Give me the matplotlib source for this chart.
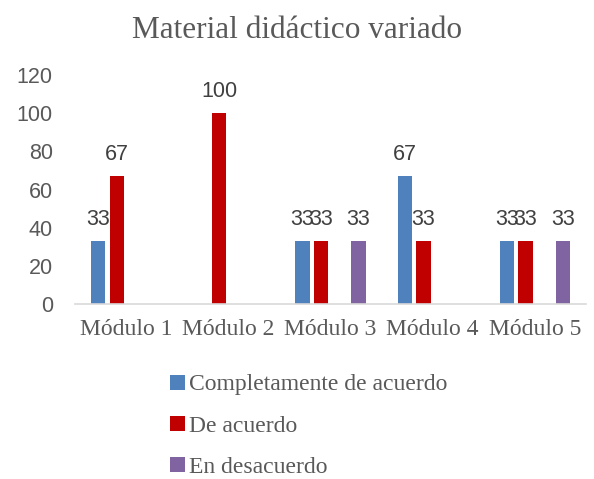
import matplotlib
matplotlib.use("Agg")
import matplotlib.pyplot as plt
import numpy as np

modules = ["Módulo 1", "Módulo 2", "Módulo 3", "Módulo 4", "Módulo 5"]
completamente = [33, 0, 33, 67, 33]
de_acuerdo = [67, 100, 33, 33, 33]
vacio = [0, 0, 0, 0, 0]          # series with no data, hidden from the legend
desacuerdo = [0, 0, 33, 0, 33]
y_ticks = [0, 20, 40, 60, 80, 100, 120]

series = [
    (completamente, "#4F81BD", "Completamente de acuerdo"),
    (de_acuerdo, "#C00000", "De acuerdo"),
    (vacio, "#9BBB59", "_nolegend_"),
    (desacuerdo, "#8064A2", "En desacuerdo"),
]

W, H = 594, 479
fig = plt.figure(figsize=(W / 100, H / 100), dpi=100)
ax = fig.add_axes([75 / W, 1 - 304 / H, (586 - 75) / W, (304 - 75) / H])

sans = "Liberation Sans"
serif = "Liberation Serif"
grey = "#595959"

x = np.arange(len(modules))
slot = 0.182
bw = 0.14
handles = []
for i, (vals, col, lab) in enumerate(series):
    pos = x + (i - 1.5) * slot
    bars = ax.bar(pos, vals, width=bw, color=col, label=lab)
    labels = [str(v) if v else "" for v in vals]
    ax.bar_label(bars, labels=labels, padding=8, fontsize=15.5,
                 color="#404040", family=sans)
    if not lab.startswith("_"):
        handles.append(bars)

ax.set_xlim(-0.5, len(modules) - 0.5)
ax.set_ylim(0, 120)
ax.set_yticks(y_ticks)
ax.set_xticks(x)
ax.set_xticklabels(modules, family=serif, fontsize=17, color=grey)
for t in ax.get_yticklabels():
    t.set_family(sans)
    t.set_fontsize(15.5)
    t.set_color(grey)
ax.tick_params(length=0)
ax.tick_params(axis="y", pad=16)
ax.tick_params(axis="x", pad=11)

for s in ["top", "right", "left"]:
    ax.spines[s].set_visible(False)
ax.spines["bottom"].set_color("#D9D9D9")
ax.spines["bottom"].set_linewidth(1.2)

fig.text(0.5, 1 - 31 / H, "Material didáctico variado", ha="center",
         va="center", family=serif, fontsize=22.5, color=grey)

fig.legend(handles=handles, labels=[h.get_label() for h in handles],
           loc="upper left", bbox_to_anchor=(161 / W, 1 - 365 / H),
           frameon=False, prop={"family": serif, "size": 17},
           labelcolor=grey, handlelength=0.6, handleheight=0.6,
           handletextpad=0.2, labelspacing=0.86, borderaxespad=0)

fig.savefig("out.png", dpi=100)
